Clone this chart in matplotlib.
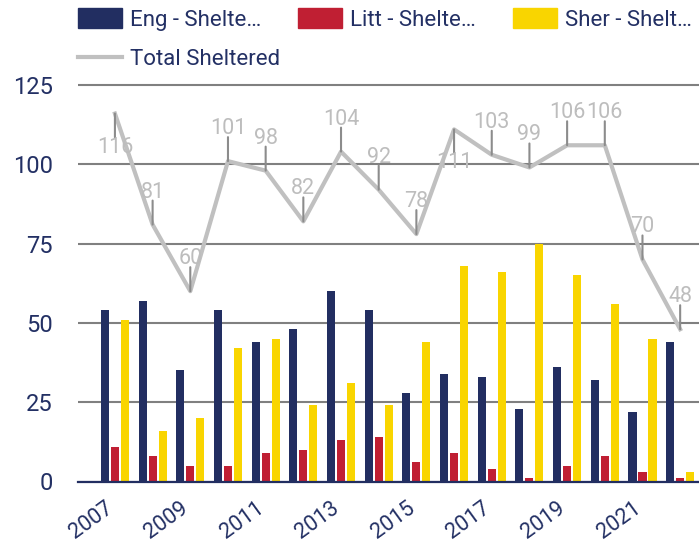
import matplotlib.pyplot as plt
from matplotlib.patches import Patch
from matplotlib.lines import Line2D
from matplotlib.transforms import ScaledTranslation
import numpy as np

plt.rcParams['font.family'] = ['Roboto', 'DejaVu Sans']

# data
years = list(range(2007, 2023))
eng = [54, 57, 35, 54, 44, 48, 60, 54, 28, 34, 33, 23, 36, 32, 22, 44]
litt = [11, 8, 5, 5, 9, 10, 13, 14, 6, 9, 4, 1, 5, 8, 3, 1]
sher = [51, 16, 20, 42, 45, 24, 31, 24, 44, 68, 66, 75, 65, 56, 45, 3]
total = [116, 81, 60, 101, 98, 82, 104, 92, 78, 111, 103, 99, 106, 106, 70, 48]
legend_labels = ["Eng - Shelte\u2026", "Litt - Shelte\u2026", "Sher - Shelt\u2026"]
line_label = "Total Sheltered"
yticks = [0, 25, 50, 75, 100, 125]

navy = '#222E61'
red = '#C01F33'
yellow = '#F9D500'
line_grey = '#C0C0C0'
text_navy = '#233064'

W, H = 699, 545
fig = plt.figure(figsize=(W / 100, H / 100), dpi=100)

# axes placement (pixels -> fraction)
y0_px, y125_px = 481.5, 85
ppu = (y0_px - y125_px) / 125
ytop = 126
top_px = y0_px - ytop * ppu
ax = fig.add_axes([78 / W, (H - y0_px) / H, (W - 78) / W, (y0_px - top_px) / H])

x = np.arange(len(years))
w = 0.215
off = 0.265
ax.bar(x - off, eng, w, color=navy, zorder=2)
ax.bar(x, litt, w, color=red, zorder=2)
ax.bar(x + off, sher, w, color=yellow, zorder=2)
ax.plot(x, total, color=line_grey, lw=3, zorder=4)

# data labels with small leader ticks
for i, v in enumerate(total):
    up = v <= 108
    s = 1 if up else -1
    ax.annotate('', xy=(i, v), xytext=(0, 24 * s), textcoords='offset pixels',
                arrowprops=dict(arrowstyle='-', color='#8C8C8C', lw=1.5,
                                shrinkA=0, shrinkB=0), zorder=5)
    ax.annotate(str(v), xy=(i, v), xytext=(0, 27 * s if up else -23),
                textcoords='offset pixels', ha='center',
                va='baseline' if up else 'top', color='#BDBDBD', fontsize=15.5,
                zorder=5)

ax.set_xlim(-0.98, 15.5)
ax.set_ylim(0, ytop)
ax.set_yticks(yticks)
ax.yaxis.grid(True, color='#808080', lw=1.5)
ax.set_axisbelow(True)
for sp in ['left', 'right', 'top']:
    ax.spines[sp].set_visible(False)
ax.spines['bottom'].set_color(navy)
ax.spines['bottom'].set_linewidth(1.6)
ax.spines['bottom'].set_zorder(6)

ax.tick_params(axis='y', length=0, pad=18, labelsize=17, labelcolor=text_navy)
ax.tick_params(axis='x', length=0, pad=18, labelsize=15.5, labelcolor=text_navy)
ax.set_xticks(x[::2])
ax.set_xticklabels([str(y) for y in years[::2]], rotation=36, ha='right',
                   va='center', rotation_mode='anchor')
for lab in ax.get_xticklabels():
    lab.set_transform(lab.get_transform() + ScaledTranslation(-0.04, 0, fig.dpi_scale_trans))

# legend
handles = [Patch(color=navy), Patch(color=red), Patch(color=yellow)]
fig.legend(handles, legend_labels, ncol=3, loc='upper left',
           bbox_to_anchor=(78 / W, 1 - 8 / H), frameon=False, fontsize=16,
           handlelength=1.98, handleheight=1.0, handletextpad=0.36,
           columnspacing=1.67, borderpad=0, borderaxespad=0, labelcolor=text_navy)
fig.legend([Line2D([], [], color=line_grey, lw=3)], [line_label], loc='upper left',
           bbox_to_anchor=(78 / W, 1 - 49 / H), frameon=False, fontsize=16,
           handlelength=1.98, handletextpad=0.36, borderpad=0, borderaxespad=0,
           labelcolor=text_navy)

fig.savefig('out.png', dpi=100)
